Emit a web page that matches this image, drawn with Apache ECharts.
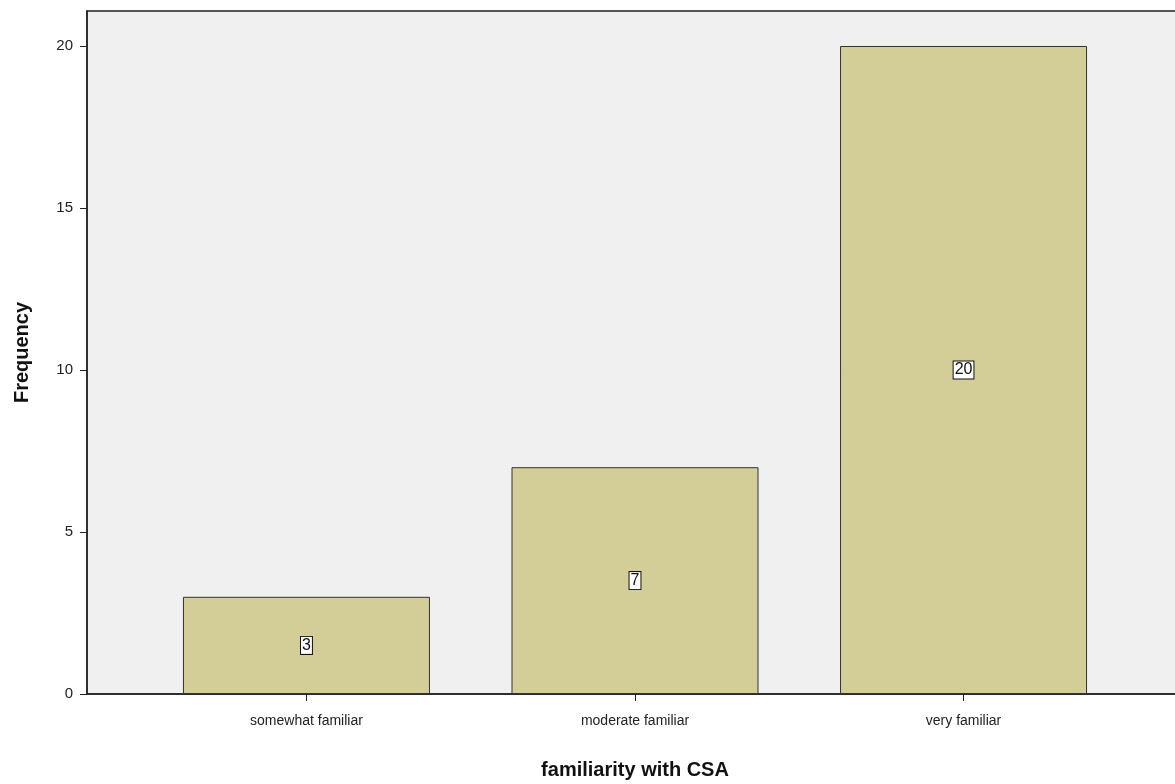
<!DOCTYPE html>
<html>
<head>
<meta charset="utf-8">
<script src="https://cdn.jsdelivr.net/npm/echarts@6/dist/echarts.min.js"></script>
<style>
  html, body { margin: 0; padding: 0; background: #fff; }
  #chart { width: 1175px; height: 784px; }
</style>
</head>
<body>
<div id="chart"></div>
<script>
// data
const categories = ['somewhat familiar', 'moderate familiar', 'very familiar'];
const frequency = [3, 7, 20];
const yTicks = [0, 5, 10, 15, 20];

// bars sit at x = 1, 2, 3 on a value axis so the padding at both ends matches
const positions = categories.map((c, i) => i + 1);

const chart = echarts.init(document.getElementById('chart'));

const option = {
  animation: false,
  textStyle: { fontFamily: 'Liberation Sans, Arial, sans-serif' },
  grid: {
    left: 87,
    top: 11,
    right: -8,
    bottom: 90,
    outerBoundsMode: 'none',
    containLabel: false,
    show: true,
    backgroundColor: '#f0f0f0',
    borderColor: '#222',
    borderWidth: 1.5
  },
  xAxis: {
    type: 'value',
    min: 0.332,
    max: 3.668,
    name: 'familiarity with CSA',
    nameLocation: 'middle',
    nameGap: 66,
    nameTextStyle: { fontSize: 20, fontWeight: 'bold', color: '#111' },
    axisLine: { show: true, lineStyle: { color: '#222', width: 1.5 } },
    axisTick: { show: true, length: 7, lineStyle: { color: '#222' }, customValues: positions },
    axisLabel: {
      customValues: positions,
      formatter: v => categories[Math.round(v) - 1] || '',
      fontSize: 14,
      color: '#222',
      margin: 20
    },
    splitLine: { show: false }
  },
  yAxis: {
    type: 'value',
    min: 0,
    max: 21.08,
    name: 'Frequency',
    nameLocation: 'middle',
    nameGap: 55,
    nameTextStyle: { fontSize: 20, fontWeight: 'bold', color: '#111' },
    axisLine: { show: true, lineStyle: { color: '#222', width: 1.5 } },
    axisTick: { show: true, length: 7, lineStyle: { color: '#222' }, customValues: yTicks },
    axisLabel: { customValues: yTicks, fontSize: 15, color: '#222', margin: 14 },
    splitLine: { show: false }
  },
  series: [
    {
      type: 'bar',
      barWidth: 247,
      data: positions.map((p, i) => [p, frequency[i]]),
      itemStyle: {
        color: '#d3ce97',
        borderColor: '#333',
        borderWidth: 1
      },
      label: {
        show: true,
        position: 'inside',
        formatter: p => p.value[1],
        fontSize: 16,
        color: '#111',
        backgroundColor: '#fff',
        borderColor: '#111',
        borderWidth: 1,
        padding: [1, 1, 0, 1]
      }
    }
  ]
};

chart.setOption(option);
window.addEventListener('resize', () => chart.resize());
</script>
</body>
</html>
